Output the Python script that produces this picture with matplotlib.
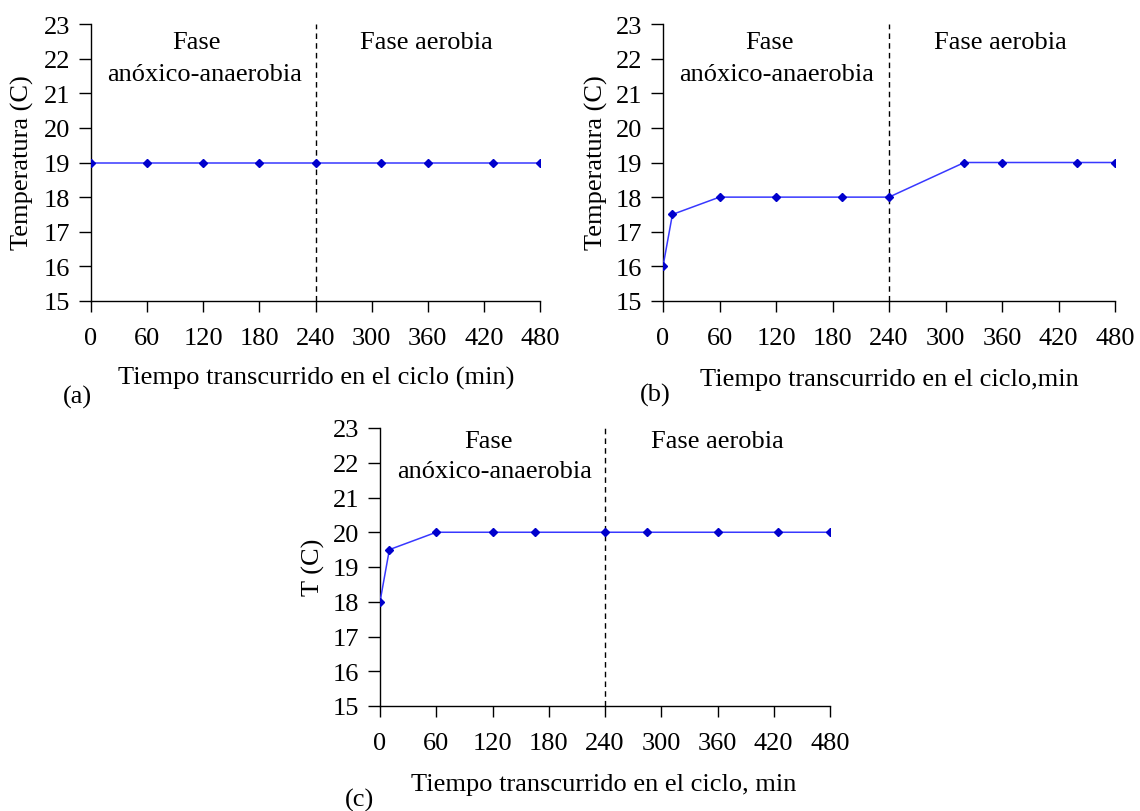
import matplotlib
matplotlib.use("Agg")
import matplotlib.pyplot as plt

plt.rcParams['font.family'] = ['Liberation Serif', 'DejaVu Serif']
FS = 19
plt.rcParams['font.size'] = FS

# Data
x_a = [0, 60, 120, 180, 240, 310, 360, 430, 480]
y_a = [19, 19, 19, 19, 19, 19, 19, 19, 19]

x_b = [0, 10, 60, 120, 190, 240, 320, 360, 440, 480]
y_b = [16, 17.5, 18, 18, 18, 18, 19, 19, 19, 19]

x_c = [0, 10, 60, 120, 165, 240, 285, 360, 425, 480]
y_c = [18, 19.5, 20, 20, 20, 20, 20, 20, 20, 20]

x_ticks = [0, 60, 120, 180, 240, 300, 360, 420, 480]
y_ticks = [15, 16, 17, 18, 19, 20, 21, 22, 23]
phase_split = 240

W, H = 1140, 812
fig = plt.figure(figsize=(W / 100, H / 100), dpi=100)


def px_axes(left, right, top, bottom):
    return fig.add_axes([left / W, 1 - bottom / H, (right - left) / W, (bottom - top) / H])


def style(ax, x, y, fase_y, fase_x, ano_y, ano_x, aer_x):
    ax.plot(x, y, color='#3838ff', lw=1.1, zorder=3)
    ax.plot(x, y, ls='none', marker='D', ms=4.5, color='#0000cc', zorder=4)
    ax.axvline(phase_split, color='black', ls=(0, (4, 3)), lw=1.0, zorder=2)
    ax.set_xlim(0, 480)
    ax.set_ylim(15, 23)
    ax.set_xticks(x_ticks)
    ax.set_yticks(y_ticks)
    for s in ['top', 'right']:
        ax.spines[s].set_visible(False)
    for s in ['left', 'bottom']:
        ax.spines[s].set_linewidth(1.0)
    ax.tick_params(axis='x', direction='out', length=8, width=1.0, pad=11, labelsize=FS)
    ax.tick_params(axis='y', direction='out', length=9, width=1.0, pad=6, labelsize=FS)
    ax.text(fase_x, fase_y, 'Fase', transform=ax.transAxes, ha='center', va='center', fontsize=FS)
    ax.text(ano_x, ano_y, 'anóxico-anaerobia', transform=ax.transAxes, ha='center', va='center', fontsize=FS)
    ax.text(aer_x, fase_y, 'Fase aerobia', transform=ax.transAxes, ha='center', va='center', fontsize=FS)


ax_a = px_axes(91, 540, 25, 302)
style(ax_a, x_a, y_a, 0.935, 0.234, 0.819, 0.252, 0.747)

ax_b = px_axes(663, 1115, 25, 302)
style(ax_b, x_b, y_b, 0.935, 0.235, 0.819, 0.252, 0.746)

ax_c = px_axes(380, 830, 429, 707)
style(ax_c, x_c, y_c, 0.954, 0.24, 0.846, 0.255, 0.75)

# axis labels and panel letters (pixel positions)
def ftext(px, py, s, **kw):
    fig.text(px / W, 1 - py / H, s, ha='center', va='center', fontsize=FS, **kw)

ftext(316, 378, 'Tiempo transcurrido en el ciclo (min)')
ftext(889, 380, 'Tiempo transcurrido en el ciclo,min')
ftext(604, 785, 'Tiempo transcurrido en el ciclo, min')

ftext(22, 163, 'Temperatura (C)', rotation=90)
ftext(596, 163, 'Temperatura (C)', rotation=90)
ftext(313, 567, 'T (C)', rotation=90)

ftext(77, 397, '(a)')
ftext(655, 395, '(b)')
ftext(359, 800, '(c)')

fig.savefig('out.png', dpi=100, facecolor='white')
